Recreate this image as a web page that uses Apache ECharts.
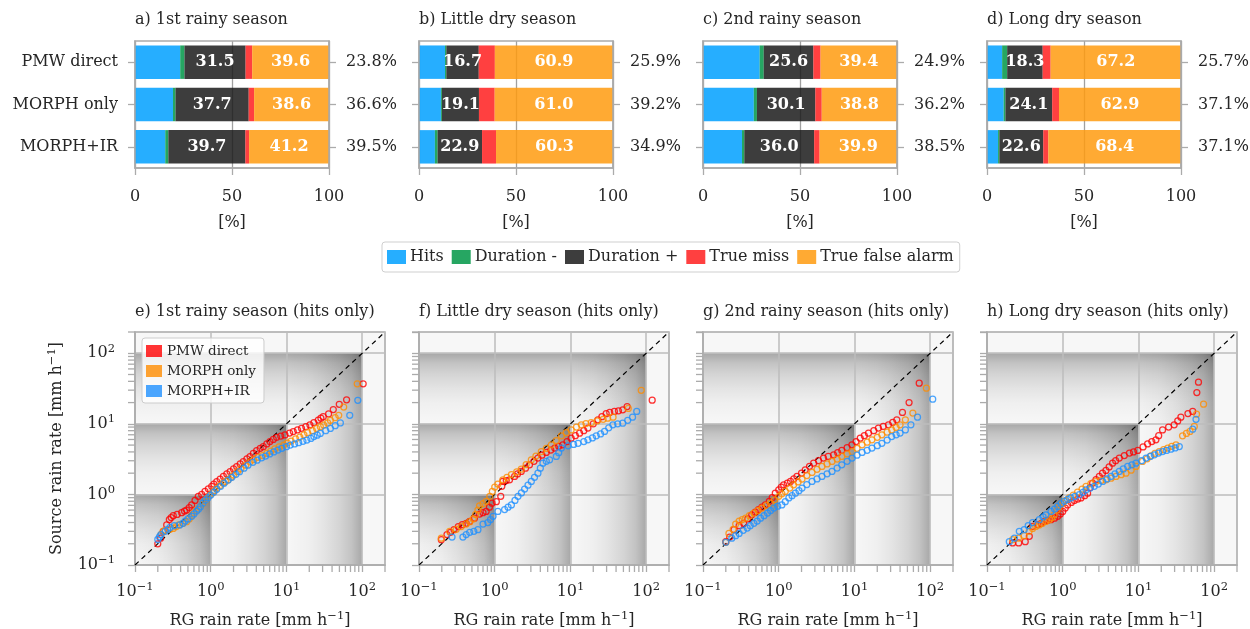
<!DOCTYPE html>
<html>
<head>
<meta charset="utf-8">
<script src="https://cdn.jsdelivr.net/npm/echarts@6/dist/echarts.min.js"></script>
<style>html,body{margin:0;padding:0;background:#fff}#c{width:1250px;height:629px}</style>
</head>
<body>
<div id="c"></div>
<script>
// ---------- DATA ----------
const topTitles = ['a) 1st rainy season', 'b) Little dry season', 'c) 2nd rainy season', 'd) Long dry season'];
const bottomTitles = ['e) 1st rainy season (hits only)', 'f) Little dry season (hits only)', 'g) 2nd rainy season (hits only)', 'h) Long dry season (hits only)'];
const products = ['PMW direct', 'MORPH only', 'MORPH+IR'];
const segNames = ['Hits', 'Duration -', 'Duration +', 'True miss', 'True false alarm'];
// per panel (a,b,c,d), per product (PMW direct, MORPH only, MORPH+IR), in %
const hits       = [[23.3, 19.6, 15.6], [13.4, 11.3, 8.2], [29.2, 26.2, 20.1], [7.8, 8.6, 5.7]];
const durMinus   = [[2.2, 1.3, 1.6], [0.7, 0.5, 1.4], [2.1, 1.6, 1.2], [2.6, 0.9, 0.7]];
const durPlus    = [[31.5, 37.7, 39.7], [16.7, 19.1, 22.9], [25.6, 30.1, 36.0], [18.3, 24.1, 22.6]];
const trueMiss   = [[3.4, 2.8, 1.9], [8.3, 8.1, 7.2], [3.7, 3.3, 2.8], [4.1, 3.5, 2.6]];
const falseAlarm = [[39.6, 38.6, 41.2], [60.9, 61.0, 60.3], [39.4, 38.8, 39.9], [67.2, 62.9, 68.4]];
const rightPct = [['23.8%', '36.6%', '39.5%'], ['25.9%', '39.2%', '34.9%'], ['24.9%', '36.2%', '38.5%'], ['25.7%', '37.1%', '37.1%']];
const pctTicks = [0, 50, 100];

const logRange = [0.1, 200];
const decades = [1, 10, 100];
const minorTicks = [0.2,0.3,0.4,0.5,0.6,0.7,0.8,0.9,2,3,4,5,6,7,8,9,20,30,40,50,60,70,80,90,200];
const oneToOne = [[0.1, 0.1], [200, 200]];

// scatter: [RG rain rate, source rain rate]
const pmwE = [[0.2,0.2],[0.218,0.24],[0.237,0.3],[0.262,0.37],[0.284,0.44],[0.3,0.47],[0.32,0.5],[0.36,0.52],[0.413,0.55],[0.45,0.58],[0.48,0.6],[0.52,0.65],[0.56,0.71],[0.62,0.82],[0.685,0.94],[0.76,1.0],[0.84,1.1],[0.93,1.2],[1.03,1.3],[1.1,1.4],[1.2,1.52],[1.33,1.65],[1.47,1.8],[1.63,1.95],[1.8,2.11],[2.0,2.3],[2.2,2.48],[2.45,2.7],[2.69,2.92],[3.0,3.2],[3.3,3.44],[3.65,3.8],[4.04,4.18],[4.5,4.5],[4.94,4.75],[5.5,5.2],[6.05,5.6],[6.7,6.0],[7.4,6.45],[8.4,6.7],[9.55,6.97],[11,7.4],[12.3,7.77],[14,8.2],[15.8,8.65],[18,9.1],[20.4,9.64],[23,10.4],[26.3,11.3],[28.5,12],[30.6,12.6],[36,13.8],[41.5,15.9],[49.8,18.9],[62.2,21.9],[103,36.9]];
const morphE = [[0.22,0.27],[0.235,0.3],[0.25,0.31],[0.29,0.32],[0.32,0.33],[0.35,0.35],[0.38,0.37],[0.43,0.39],[0.48,0.41],[0.52,0.45],[0.56,0.5],[0.6,0.55],[0.65,0.6],[0.71,0.66],[0.78,0.73],[0.84,0.8],[0.89,0.88],[0.97,0.97],[1.05,1.05],[1.12,1.13],[1.2,1.22],[1.32,1.33],[1.45,1.45],[1.57,1.53],[1.7,1.62],[1.85,1.75],[2.0,1.88],[2.25,2.1],[2.5,2.3],[2.9,2.6],[3.3,2.9],[3.7,3.1],[4.2,3.35],[4.8,3.55],[5.5,3.8],[6.2,4.1],[7.0,4.4],[8.0,4.7],[9.2,5.0],[10.3,5.35],[11.5,5.7],[13.2,6.1],[15,6.5],[17,7.0],[19,7.5],[22,8.0],[25,8.6],[28,9.1],[31,9.6],[35,10.3],[38,11.2],[44,12.2],[49,13.2],[57,17.3],[86,36.9]];
const irE = [[0.2,0.23],[0.21,0.25],[0.22,0.27],[0.25,0.3],[0.27,0.32],[0.29,0.34],[0.33,0.36],[0.39,0.37],[0.43,0.39],[0.46,0.42],[0.5,0.45],[0.56,0.49],[0.6,0.53],[0.65,0.58],[0.69,0.62],[0.73,0.67],[0.79,0.75],[0.85,0.83],[0.92,0.9],[1.0,0.98],[1.1,1.08],[1.2,1.18],[1.35,1.3],[1.5,1.44],[1.7,1.6],[1.9,1.75],[2.15,1.93],[2.4,2.1],[2.75,2.35],[3.1,2.6],[3.6,2.85],[4.1,3.06],[4.7,3.3],[5.3,3.5],[6.0,3.75],[6.8,4.0],[7.7,4.25],[8.7,4.5],[10,4.75],[11.2,5.0],[12.8,5.2],[14.5,5.4],[16.5,5.65],[18.6,5.9],[21,6.2],[23,6.6],[25.5,6.9],[28,7.3],[33,8.0],[38,8.6],[44,9.4],[51.5,10.3],[68.5,13.2],[87.5,21.5]];

const pmwF = [[0.197,0.228],[0.234,0.27],[0.26,0.29],[0.29,0.316],[0.33,0.35],[0.373,0.372],[0.42,0.39],[0.467,0.415],[0.54,0.46],[0.63,0.527],[0.7,0.55],[0.77,0.575],[0.85,0.66],[0.92,0.75],[1.05,0.79],[1.2,0.94],[1.24,1.3],[1.28,1.53],[1.42,1.57],[1.57,1.61],[1.83,1.8],[2.0,1.95],[2.24,2.12],[2.55,2.35],[2.88,2.63],[3.3,2.95],[3.72,3.27],[4.2,3.6],[4.79,3.93],[5.5,4.25],[6.2,4.53],[7.0,4.8],[7.9,5.05],[9.0,5.6],[10.2,6.27],[11.6,6.8],[13.2,7.38],[15,8.0],[17,8.7],[20,10],[23,11.4],[26,12.6],[29.6,13.9],[33,14.5],[38,15],[43,15.3],[49,15.8],[56,17.6],[120,21.6]];
const morphF = [[0.197,0.24],[0.254,0.3],[0.31,0.32],[0.36,0.35],[0.42,0.38],[0.47,0.41],[0.52,0.45],[0.56,0.52],[0.6,0.6],[0.63,0.69],[0.7,0.74],[0.77,0.8],[0.86,0.94],[0.93,1.1],[1.0,1.27],[1.1,1.4],[1.28,1.61],[1.45,1.75],[1.66,1.9],[1.95,2.08],[2.24,2.28],[2.6,2.65],[3.04,3.09],[3.5,3.5],[4.12,4.05],[4.8,4.5],[5.6,5.05],[6.5,5.8],[7.6,6.76],[8.8,7.5],[10.2,8.2],[12,9.0],[13.9,9.7],[16,10.1],[18.8,10.4],[22.5,11.0],[27,11.6],[31,12],[36.5,12.4],[58,16.5],[86,29.9]];
const irF = [[0.273,0.249],[0.38,0.249],[0.42,0.27],[0.467,0.29],[0.53,0.3],[0.6,0.316],[0.7,0.38],[0.81,0.4],[0.88,0.44],[0.95,0.49],[1.1,0.575],[1.35,0.61],[1.5,0.66],[1.66,0.71],[1.85,0.82],[2.03,0.94],[2.25,1.05],[2.48,1.19],[2.75,1.35],[3.04,1.53],[3.35,1.75],[3.72,2.0],[4.0,2.35],[4.33,2.77],[4.8,2.95],[5.3,3.09],[6.5,3.45],[7.0,3.9],[7.6,4.53],[9.3,4.89],[11,5.1],[12.6,5.3],[15,5.6],[17,5.94],[19.5,6.3],[21.9,6.76],[25,7.2],[28.2,7.8],[32,8.8],[36.3,9.7],[42,10.0],[49,10.2],[57,11.2],[66,12.4],[75,15]];

const pmwG = [[0.2,0.214],[0.225,0.249],[0.257,0.316],[0.3,0.36],[0.344,0.39],[0.39,0.45],[0.44,0.515],[0.49,0.56],[0.54,0.61],[0.6,0.66],[0.665,0.71],[0.75,0.8],[0.82,0.9],[0.9,1.04],[1.0,1.16],[1.08,1.27],[1.16,1.37],[1.3,1.45],[1.43,1.53],[1.58,1.66],[1.74,1.8],[2.0,2.0],[2.24,2.23],[2.55,2.5],[2.89,2.77],[3.35,3.0],[3.9,3.27],[4.5,3.45],[5.3,3.64],[6.0,3.9],[6.8,4.2],[8.0,4.6],[9.25,5.05],[10.5,5.6],[11.9,6.27],[13.5,6.8],[15.3,7.38],[18,8.0],[20.7,8.7],[24,9.2],[28.1,9.7],[32,10.5],[36.2,11.4],[43,14.5],[52.6,20],[71.6,37.6]];
const morphG = [[0.2,0.21],[0.22,0.28],[0.25,0.32],[0.27,0.38],[0.3,0.42],[0.33,0.44],[0.365,0.46],[0.41,0.5],[0.47,0.545],[0.53,0.59],[0.6,0.64],[0.69,0.7],[0.78,0.75],[0.88,0.84],[1.0,0.94],[1.1,1.02],[1.22,1.1],[1.4,1.23],[1.57,1.37],[1.8,1.5],[2.03,1.65],[2.35,1.85],[2.75,2.05],[3.2,2.27],[3.72,2.49],[4.35,2.7],[5.05,2.93],[5.9,3.17],[6.8,3.45],[8.0,3.75],[9.3,4.05],[10.8,4.5],[12.6,5.05],[14.7,5.5],[17,5.94],[20,6.45],[23,7.0],[27,7.6],[31,8.2],[35.5,8.9],[40,9.7],[47,11.4],[59,14.2],[89,32]];
const irG = [[0.2,0.21],[0.24,0.24],[0.27,0.26],[0.3,0.28],[0.34,0.31],[0.384,0.334],[0.42,0.36],[0.47,0.39],[0.52,0.42],[0.575,0.46],[0.64,0.5],[0.71,0.545],[0.78,0.59],[0.86,0.64],[0.97,0.68],[1.1,0.71],[1.22,0.79],[1.36,0.89],[1.5,0.96],[1.66,1.04],[1.85,1.13],[2.03,1.23],[2.35,1.38],[2.75,1.53],[3.2,1.66],[3.72,1.8],[4.35,1.96],[5.05,2.12],[5.9,2.36],[6.8,2.63],[8.0,2.95],[9.3,3.27],[10.8,3.6],[12.6,3.93],[14.7,4.22],[17,4.53],[20,4.9],[23,5.3],[27,5.9],[31,6.6],[35.5,7.0],[40,7.4],[47,8.2],[55.6,9.7],[68,12.4],[108,22.3]];

const pmwH = [[0.218,0.205],[0.262,0.205],[0.32,0.214],[0.362,0.255],[0.4,0.352],[0.467,0.372],[0.52,0.39],[0.57,0.415],[0.63,0.43],[0.7,0.438],[0.78,0.46],[0.86,0.49],[0.93,0.53],[1.0,0.575],[1.08,0.64],[1.16,0.71],[1.3,0.77],[1.42,0.82],[1.58,0.86],[1.74,0.89],[1.95,0.96],[2.13,1.04],[2.3,1.25],[2.48,1.45],[2.75,1.62],[3.04,1.8],[3.35,2.0],[3.72,2.19],[4.1,2.45],[4.55,2.77],[5.0,3.0],[5.58,3.27],[6.5,3.55],[7.6,3.85],[8.6,4.0],[9.8,4.2],[11.5,4.7],[13.2,5.2],[15,5.6],[17,5.94],[18.5,6.8],[20.8,8.2],[25,9.0],[29.6,9.7],[33,11],[36.3,12.4],[45,14],[52,15],[59,27.7],[62,38.9]];
const morphH = [[0.218,0.228],[0.26,0.24],[0.31,0.26],[0.36,0.3],[0.4,0.33],[0.44,0.352],[0.49,0.37],[0.54,0.39],[0.6,0.415],[0.665,0.438],[0.72,0.47],[0.77,0.515],[0.84,0.6],[0.9,0.676],[1.0,0.75],[1.1,0.82],[1.22,0.89],[1.38,0.98],[1.57,1.08],[1.8,1.19],[2.03,1.3],[2.35,1.42],[2.75,1.53],[3.2,1.58],[3.72,1.61],[4.35,1.7],[5.05,1.8],[5.9,1.9],[6.84,2.0],[8.0,2.2],[9.3,2.49],[11.3,2.93],[13,3.2],[14.6,3.52],[16.5,3.8],[18.8,4.05],[21.5,4.3],[24.3,4.53],[27.5,4.8],[31.3,5.05],[38.2,6.76],[43,7.3],[47.9,7.8],[54.6,9.2],[58.5,13.7],[72.4,19]];
const irH = [[0.197,0.214],[0.23,0.24],[0.267,0.3],[0.31,0.316],[0.35,0.36],[0.4,0.4],[0.49,0.438],[0.55,0.48],[0.6,0.515],[0.7,0.575],[0.78,0.62],[0.86,0.676],[0.95,0.74],[1.05,0.8],[1.16,0.85],[1.28,0.89],[1.45,0.94],[1.66,0.99],[1.85,1.07],[2.03,1.16],[2.3,1.23],[2.61,1.3],[2.95,1.4],[3.37,1.53],[3.85,1.66],[4.34,1.8],[4.9,1.96],[5.58,2.12],[6.3,2.3],[7.2,2.49],[8.2,2.63],[9.3,2.77],[11,3.0],[12.6,3.27],[14.3,3.45],[16.2,3.64],[18.4,3.85],[20.8,4.05],[23.5,4.2],[26.8,4.38],[30.5,4.55],[34.6,4.77],[52,8.4],[57.5,11.6]];

const scatterSets = [[pmwE, morphE, irE], [pmwF, morphF, irF], [pmwG, morphG, irG], [pmwH, morphH, irH]];

// ---------- STYLE ----------
const FONT = '"DejaVu Serif", serif';
const FS = 16;
const TXT = '#262626';
const FRAME = '#ababab';
const GRIDC = '#bdbdbd';
const segColors = ['rgba(0,160,255,0.85)', 'rgba(0,150,70,0.85)', 'rgba(27,27,27,0.85)', 'rgba(255,30,30,0.85)', 'rgba(255,155,15,0.85)'];
const prodColors = ['#ff0000', '#ff8c00', '#1e90ff'];
const panelLefts = [135, 419, 703, 987];

const chart = echarts.init(document.getElementById('c'), null, {renderer: 'canvas'});

const grids = [], xAxes = [], yAxes = [], series = [], titles = [];

function gradStops() {
  return [
    {offset: 0, color: 'rgba(0,0,0,0)'},
    {offset: 0.3, color: 'rgba(0,0,0,0.03)'},
    {offset: 0.5, color: 'rgba(0,0,0,0.08)'},
    {offset: 0.7, color: 'rgba(0,0,0,0.14)'},
    {offset: 0.86, color: 'rgba(0,0,0,0.21)'},
    {offset: 1, color: 'rgba(0,0,0,0.32)'}
  ];
}
function bgRender(params, api) {
  const E = api.value(0);
  const cs = params.coordSys;
  const lo = logRange[0];
  const ch = [];
  if (params.dataIndex === 0) {
    ch.push({type: 'rect', shape: {x: cs.x, y: cs.y, width: cs.width, height: cs.height}, style: {fill: '#f7f7f7'}});
  }
  const a = api.coord([E / 10, lo]), b = api.coord([E, E]);
  ch.push({type: 'rect', shape: {x: a[0], y: b[1], width: b[0] - a[0], height: a[1] - b[1]},
    style: {fill: new echarts.graphic.LinearGradient(0, 0, 1, 0, gradStops())}});
  const c = api.coord([lo, E / 10]);
  ch.push({type: 'rect', shape: {x: c[0], y: b[1], width: b[0] - c[0], height: c[1] - b[1]},
    style: {fill: new echarts.graphic.LinearGradient(0, 1, 0, 0, gradStops())}});
  return {type: 'group', children: ch};
}
function xTickRender(params, api) {
  const p = api.coord([api.value(0), api.value(1)]);
  return {type: 'line', shape: {x1: p[0], y1: p[1], x2: p[0], y2: p[1] + 7}, style: {stroke: FRAME, lineWidth: 1.3}};
}
function yTickRender(params, api) {
  const p = api.coord([api.value(0), api.value(1)]);
  return {type: 'line', shape: {x1: p[0] - 7, y1: p[1], x2: p[0], y2: p[1]}, style: {stroke: FRAME, lineWidth: 1.3}};
}
function logLabel(v) {
  const e = Math.round(Math.log10(v));
  return '{b|10}{s|' + (e < 0 ? '\u2212' + (-e) : '' + e) + '}';
}
const richSup = {
  b: {fontSize: FS, fontFamily: FONT, color: TXT, lineHeight: 21},
  n: {fontSize: FS, fontFamily: FONT, color: TXT, lineHeight: 21},
  s: {fontSize: 11.5, fontFamily: FONT, color: TXT, lineHeight: 10, verticalAlign: 'top'}
};

// ---------- TOP BAR PANELS ----------
const segData = [hits, durMinus, durPlus, trueMiss, falseAlarm];
for (let i = 0; i < 4; i++) {
  grids.push({left: panelLefts[i], top: 41, width: 194, height: 127, show: true, borderColor: FRAME, borderWidth: 1.5, z: 3,
    outerBoundsMode: 'none', containLabel: false});
  titles.push({text: topTitles[i], left: panelLefts[i], top: 12, padding: 0,
    textStyle: {fontSize: FS, fontWeight: 'normal', fontFamily: FONT, color: TXT}});
  xAxes.push({type: 'value', gridIndex: i, min: pctTicks[0], max: pctTicks[2], interval: pctTicks[1] - pctTicks[0],
    axisLine: {show: true, lineStyle: {color: FRAME, width: 1.5}},
    axisTick: {show: true, inside: false, length: 7, lineStyle: {color: FRAME, width: 1.3}},
    splitLine: {show: true, lineStyle: {color: '#a0a0a0', width: 1.3}},
    axisLabel: {margin: 21, fontSize: FS, fontFamily: FONT, color: TXT},
    name: '[%]', nameLocation: 'middle', nameGap: 47, nameTextStyle: {fontSize: FS, fontFamily: FONT, color: TXT}});
  yAxes.push({type: 'category', gridIndex: i, data: products, inverse: true, position: 'left',
    axisLine: {show: true, lineStyle: {color: FRAME, width: 1.5}},
    axisTick: {show: true, alignWithLabel: true, length: 7, lineStyle: {color: FRAME, width: 1.3}},
    axisLabel: {show: i === 0, margin: 17, fontSize: FS, fontFamily: FONT, color: TXT}});
  yAxes.push({type: 'category', gridIndex: i, data: rightPct[i], inverse: true, position: 'right',
    axisLine: {show: true, lineStyle: {color: FRAME, width: 1.5}},
    axisTick: {show: true, alignWithLabel: true, length: 7, lineStyle: {color: FRAME, width: 1.3}},
    axisLabel: {show: true, margin: 17, fontSize: FS, fontFamily: FONT, color: TXT}});
  for (let s = 0; s < 5; s++) {
    const labelled = (s === 2 || s === 4);
    series.push({
      type: 'bar', name: segNames[s], xAxisIndex: i, yAxisIndex: 2 * i, stack: 'p' + i,
      barWidth: '79%', data: segData[s][i], z: 2,
      itemStyle: {color: segColors[s]},
      label: {show: labelled, position: 'inside', color: '#fff', fontWeight: 'bold', fontSize: FS, fontFamily: FONT,
        formatter: p => p.value.toFixed(1)}
    });
  }
}

// ---------- BOTTOM SCATTER PANELS ----------
for (let j = 0; j < 4; j++) {
  const gi = 4 + j;
  grids.push({left: panelLefts[j], top: 332, width: 250, height: 233, show: true, borderColor: FRAME, borderWidth: 1.5, z: 3,
    outerBoundsMode: 'none', containLabel: false});
  titles.push({text: bottomTitles[j], left: panelLefts[j], top: 304, padding: 0,
    textStyle: {fontSize: FS, fontWeight: 'normal', fontFamily: FONT, color: TXT}});
  xAxes.push({type: 'log', logBase: 10, gridIndex: gi, min: logRange[0], max: logRange[1], interval: 1, z: 3,
    axisLine: {show: true, lineStyle: {color: FRAME, width: 1.5}},
    axisTick: {show: true, inside: false, length: 7, lineStyle: {color: FRAME, width: 1.3}},
    splitLine: {show: true, lineStyle: {color: GRIDC, width: 1.5}},
    axisLabel: {margin: 16, showMaxLabel: false, formatter: logLabel, rich: richSup},
    name: '{n|RG rain rate [mm h}{s|\u22121}{n|]}', nameLocation: 'middle', nameGap: 45,
    nameTextStyle: {rich: richSup}});
  yAxes.push({type: 'log', logBase: 10, gridIndex: gi, min: logRange[0], max: logRange[1], interval: 1, z: 3,
    axisLine: {show: true, lineStyle: {color: FRAME, width: 1.5}},
    axisTick: {show: true, inside: false, length: 7, lineStyle: {color: FRAME, width: 1.3}},
    splitLine: {show: true, lineStyle: {color: GRIDC, width: 1.5}},
    axisLabel: {show: j === 0, margin: 20, showMaxLabel: false, formatter: logLabel, rich: richSup},
    name: j === 0 ? '{n|Source rain rate [mm h}{s|\u22121}{n|]}' : '', nameLocation: 'middle', nameGap: 68,
    nameTextStyle: {rich: richSup}});
  const xi = 4 + j, yi = 8 + j;
  series.push({type: 'custom', xAxisIndex: xi, yAxisIndex: yi, renderItem: bgRender, clip: false, silent: true, z: 1,
    data: decades.map(d => [d, d])});
  series.push({type: 'custom', xAxisIndex: xi, yAxisIndex: yi, renderItem: xTickRender, clip: false, silent: true, z: 3,
    data: minorTicks.map(v => [v, logRange[0]])});
  series.push({type: 'custom', xAxisIndex: xi, yAxisIndex: yi, renderItem: yTickRender, clip: false, silent: true, z: 3,
    data: minorTicks.map(v => [logRange[0], v])});
  series.push({type: 'line', xAxisIndex: xi, yAxisIndex: yi, data: oneToOne, showSymbol: false, symbol: 'none', silent: true, z: 4,
    lineStyle: {color: '#000', width: 1.2, type: [5, 4]}});
  for (let k = 0; k < 3; k++) {
    series.push({type: 'scatter', name: products[k], xAxisIndex: xi, yAxisIndex: yi, data: scatterSets[j][k], z: 5,
      symbol: 'circle', symbolSize: 6,
      itemStyle: {color: 'rgba(255,255,255,0)', borderColor: prodColors[k], borderWidth: 1.25}});
  }
}

const option = {
  animation: false,
  backgroundColor: '#fff',
  textStyle: {fontFamily: FONT},
  title: titles,
  legend: [
    {data: segNames, left: 382, top: 242, itemWidth: 19, itemHeight: 14, itemGap: 8, icon: 'rect',
      padding: [7, 6, 7, 5], borderColor: '#cfcfcf', borderWidth: 1, borderRadius: 3, backgroundColor: '#fff',
      textStyle: {fontSize: FS, fontFamily: FONT, color: TXT, padding: [0, 0, 0, -1]}, selectedMode: false},
    {data: products.map((p, k) => ({name: p, icon: 'rect', itemStyle: {color: prodColors[k], borderWidth: 0}})),
      left: 142, top: 338, orient: 'vertical', itemWidth: 16, itemHeight: 12, itemGap: 6, z: 10,
      padding: [6, 8, 5, 4], borderColor: '#cccccc', borderWidth: 1, borderRadius: 3, backgroundColor: 'rgba(255,255,255,0.8)',
      textStyle: {fontSize: 13.5, fontFamily: FONT, color: TXT}, selectedMode: false}
  ],
  grid: grids,
  xAxis: xAxes,
  yAxis: yAxes,
  series: series
};
chart.setOption(option);
</script>
</body>
</html>
